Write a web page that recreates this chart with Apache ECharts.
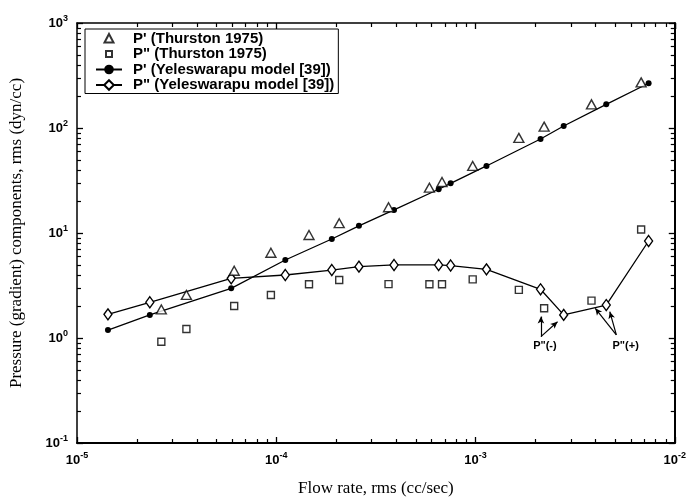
<!DOCTYPE html>
<html>
<head>
<meta charset="utf-8">
<script src="https://cdn.jsdelivr.net/npm/echarts@6/dist/echarts.min.js"></script>
<style>
html, body { margin: 0; padding: 0; background: #fff; }
#chart { width: 689px; height: 502px; }
</style>
</head>
<body>
<div id="chart"></div>
<script>
// Thurston 1975 measurements
var thurstonX = [2.65e-5, 3.54e-5, 6.15e-5, 9.4e-5, 1.46e-4, 2.07e-4, 3.66e-4, 5.87e-4, 6.79e-4, 9.68e-4, 1.65e-3, 2.21e-3, 3.82e-3, 6.78e-3];
var thurstonP1 = [1.87, 2.57, 4.37, 6.49, 9.57, 12.4, 17.6, 27.0, 30.6, 43.5, 80.5, 103, 168, 272];
var thurstonP2 = [0.92, 1.22, 2.02, 2.57, 3.25, 3.57, 3.26, 3.25, 3.25, 3.62, 2.87, 1.92, 2.27, 10.8];

// Yeleswarapu model [39]
var modelX = [1.43e-5, 2.32e-5, 5.94e-5, 1.11e-4, 1.90e-4, 2.60e-4, 3.90e-4, 6.53e-4, 7.50e-4, 1.135e-3, 2.12e-3, 2.77e-3, 4.53e-3, 7.39e-3];
var modelP1 = [1.19, 1.66, 2.97, 5.53, 8.77, 11.7, 16.6, 26.1, 29.7, 43.5, 78.6, 104.5, 168, 267];
var modelP2 = [1.68, 2.19, 3.70, 3.98, 4.44, 4.78, 4.96, 4.96, 4.90, 4.51, 2.91, 1.66, 2.06, 8.39];

var seriesNames = ["P' (Thurston 1975)", 'P" (Thurston 1975)', "P' (Yeleswarapu model [39])", 'P" (Yeleswarapu model [39])'];

// minor ticks (2..9 inside each decade)
var minorMult = [2, 3, 4, 5, 6, 7, 8, 9];
var xDecades = [1e-5, 1e-4, 1e-3];
var yDecades = [0.1, 1, 10, 100];

function pairs(xs, ys) {
    var out = [];
    for (var i = 0; i < xs.length; i++) out.push([xs[i], ys[i]]);
    return out;
}

function powLabel(v) {
    var e = Math.round(Math.log10(v));
    return '{b|10}{s|' + e + '}';
}

var labelRich = {
    b: { fontSize: 13, fontWeight: 'bold', fontFamily: 'Liberation Sans', color: '#000' },
    s: { fontSize: 9, fontWeight: 'bold', fontFamily: 'Liberation Sans', color: '#000', padding: [0, 0, 9, 0] }
};

// small legend icons centred in a 26x12 box
var triIcon = 'path://M0,0M26,12M13,1.5L17.5,10L8.5,10Z';
var sqIcon = 'path://M0,0M26,12M10,3L16,3L16,9L10,9Z';

var chart = echarts.init(document.getElementById('chart'));

var hollow = { color: '#fff', borderColor: '#000', borderWidth: 1.4 };

var option = {
    animation: false,
    backgroundColor: '#fff',
    grid: { left: 77, right: 11, top: 23, bottom: 59 },
    legend: {
        data: [
            { name: seriesNames[0], icon: triIcon },
            { name: seriesNames[1], icon: sqIcon },
            { name: seriesNames[2] },
            { name: seriesNames[3] }
        ],
        orient: 'vertical',
        left: 85,
        top: 29,
        backgroundColor: '#fff',
        borderColor: '#000',
        borderWidth: 1,
        borderRadius: 0,
        padding: [2, 4, 1, 10],
        itemGap: 0.5,
        itemWidth: 26,
        itemHeight: 12,
        textStyle: { fontSize: 15, lineHeight: 14, fontWeight: 'bold', fontFamily: 'Liberation Sans', color: '#000', padding: [0, 0, 0, 6] }
    },
    xAxis: [{
        type: 'log',
        logBase: 10,
        min: 1e-5,
        max: 1e-2,
        name: 'Flow rate, rms (cc/sec)',
        nameLocation: 'middle',
        nameGap: 37,
        nameTextStyle: { fontSize: 17, fontFamily: 'Liberation Serif', color: '#000' },
        axisLine: { lineStyle: { color: '#000', width: 2 } },
        axisTick: { inside: true, length: 6, lineStyle: { color: '#000', width: 1.3 } },
        axisLabel: { formatter: powLabel, rich: labelRich, margin: 8 },
        splitLine: { show: false }
    }, {
        type: 'log',
        logBase: 10,
        min: 1e-5,
        max: 1e-2,
        position: 'top',
        axisLine: { lineStyle: { color: '#000', width: 1.5 } },
        axisTick: { inside: true, length: 6, lineStyle: { color: '#000', width: 1.3 } },
        axisLabel: { show: false },
        splitLine: { show: false }
    }],
    yAxis: [{
        type: 'log',
        logBase: 10,
        min: 0.1,
        max: 1000,
        name: 'Pressure (gradient) components, rms (dyn/cc)',
        nameLocation: 'middle',
        nameGap: 52,
        nameTextStyle: { fontSize: 17, fontFamily: 'Liberation Serif', color: '#000' },
        axisLine: { lineStyle: { color: '#000', width: 1.5 } },
        axisTick: { inside: true, length: 6, lineStyle: { color: '#000', width: 1.3 } },
        axisLabel: { formatter: powLabel, rich: labelRich, margin: 9 },
        splitLine: { show: false }
    }, {
        type: 'log',
        logBase: 10,
        min: 0.1,
        max: 1000,
        position: 'right',
        axisLine: { lineStyle: { color: '#000', width: 2 } },
        axisTick: { inside: true, length: 6, lineStyle: { color: '#000', width: 1.3 } },
        axisLabel: { show: false },
        splitLine: { show: false }
    }],
    series: [{
        name: seriesNames[0],
        type: 'scatter',
        symbol: 'triangle',
        symbolSize: [10, 9],
        itemStyle: hollow,
        data: pairs(thurstonX, thurstonP1),
        z: 4
    }, {
        name: seriesNames[1],
        type: 'scatter',
        symbol: 'rect',
        symbolSize: 7,
        itemStyle: hollow,
        data: pairs(thurstonX, thurstonP2),
        z: 4
    }, {
        name: seriesNames[2],
        type: 'line',
        symbol: 'circle',
        symbolSize: 6,
        showAllSymbol: true,
        itemStyle: { color: '#000' },
        lineStyle: { color: '#000', width: 1.3 },
        data: pairs(modelX, modelP1),
        z: 3
    }, {
        name: seriesNames[3],
        type: 'line',
        symbol: 'diamond',
        symbolSize: [8, 11],
        showAllSymbol: true,
        itemStyle: hollow,
        lineStyle: { color: '#000', width: 1.3 },
        data: pairs(modelX, modelP2),
        z: 3,
        markLine: {
            silent: true,
            symbol: ['none', 'arrow'],
            symbolSize: [5, 7],
            label: { show: false },
            lineStyle: { color: '#000', width: 1.2, type: 'solid' },
            data: [
                [{ coord: [2.13e-3, 1.03] }, { coord: [2.13e-3, 1.60] }],
                [{ coord: [2.13e-3, 1.03] }, { coord: [2.58e-3, 1.43] }],
                [{ coord: [5.09e-3, 1.07] }, { coord: [3.99e-3, 1.92] }],
                [{ coord: [5.09e-3, 1.07] }, { coord: [4.72e-3, 1.78] }]
            ]
        },
        markPoint: {
            silent: true,
            symbol: 'circle',
            symbolSize: 1,
            itemStyle: { color: 'rgba(0,0,0,0)' },
            label: { show: true, position: 'inside', color: '#000', fontSize: 11, fontWeight: 'bold', fontFamily: 'Liberation Sans' },
            data: [
                { coord: [2.23e-3, 0.845], value: 'P"(-)', label: { formatter: 'P"(-)' } },
                { coord: [5.67e-3, 0.845], value: 'P"(+)', label: { formatter: 'P"(+)' } }
            ]
        }
    }]
};

chart.setOption(option);

// minor ticks on all four sides, placed through the axis scales
var xl = chart.convertToPixel({ xAxisIndex: 0 }, 1e-5);
var xr = chart.convertToPixel({ xAxisIndex: 0 }, 1e-2);
var yb = chart.convertToPixel({ yAxisIndex: 0 }, 0.1);
var yt = chart.convertToPixel({ yAxisIndex: 0 }, 1000);
var L = 4;
var tickStyle = { stroke: '#000', lineWidth: 1.2 };
var ticks = [];
xDecades.forEach(function (d) {
    minorMult.forEach(function (m) {
        var px = Math.round(chart.convertToPixel({ xAxisIndex: 0 }, m * d)) + 0.5;
        ticks.push({ type: 'line', silent: true, z: 10, shape: { x1: px, y1: yb, x2: px, y2: yb - L }, style: tickStyle });
        ticks.push({ type: 'line', silent: true, z: 10, shape: { x1: px, y1: yt, x2: px, y2: yt + L }, style: tickStyle });
    });
});
yDecades.forEach(function (d) {
    minorMult.forEach(function (m) {
        var py = Math.round(chart.convertToPixel({ yAxisIndex: 0 }, m * d)) + 0.5;
        ticks.push({ type: 'line', silent: true, z: 10, shape: { x1: xl, y1: py, x2: xl + L, y2: py }, style: tickStyle });
        ticks.push({ type: 'line', silent: true, z: 10, shape: { x1: xr, y1: py, x2: xr - L, y2: py }, style: tickStyle });
    });
});
chart.setOption({ graphic: ticks });
</script>
</body>
</html>
